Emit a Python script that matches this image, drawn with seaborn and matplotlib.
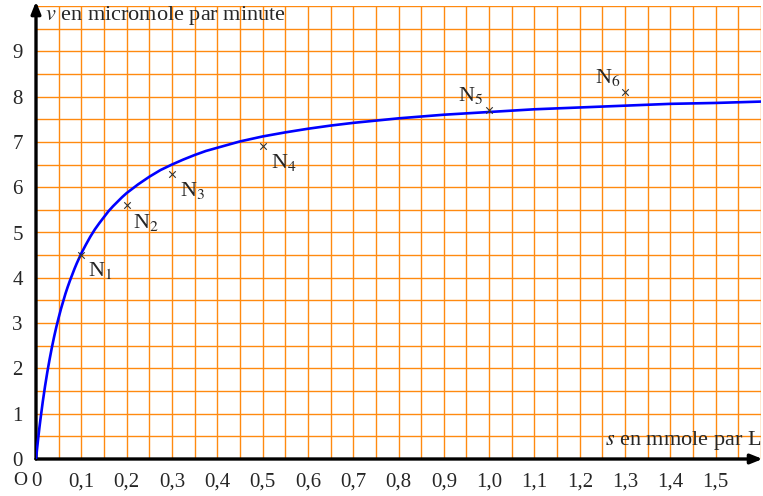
import matplotlib
matplotlib.use("Agg")
import matplotlib.pyplot as plt
import numpy as np
import pandas as pd
import seaborn as sns

# substrate concentration s (mmol/L) and reaction speed v (µmol/min) along the fitted curve
curve_s = [0, 0.0025, 0.005, 0.0075, 0.01, 0.015, 0.02, 0.025, 0.03, 0.035, 0.04, 0.045,
           0.05, 0.055, 0.06, 0.065, 0.07, 0.075, 0.08, 0.085, 0.09, 0.095, 0.1, 0.11,
           0.12, 0.13, 0.14, 0.15, 0.16, 0.17, 0.18, 0.19, 0.2, 0.225, 0.25, 0.275, 0.3,
           0.325, 0.35, 0.375, 0.4, 0.45, 0.5, 0.55, 0.6, 0.65, 0.7, 0.75, 0.8, 0.9,
           1.0, 1.1, 1.2, 1.3, 1.4, 1.5, 1.6]
curve_v = [0, 0.24, 0.47, 0.69, 0.89, 1.27, 1.61, 1.92, 2.20, 2.46, 2.70, 2.92,
           3.12, 3.31, 3.48, 3.65, 3.80, 3.94, 4.07, 4.20, 4.32, 4.43, 4.54, 4.73,
           4.91, 5.07, 5.21, 5.34, 5.47, 5.58, 5.68, 5.78, 5.87, 6.06, 6.23, 6.38, 6.50,
           6.61, 6.71, 6.80, 6.87, 7.01, 7.12, 7.21, 7.29, 7.36, 7.42, 7.47, 7.52, 7.60,
           7.66, 7.72, 7.76, 7.80, 7.84, 7.86, 7.89]

# measured points
point_s = [0.1, 0.2, 0.3, 0.5, 1.0, 1.3]
point_v = [4.5, 5.6, 6.3, 6.9, 7.7, 8.1]
point_names = ["N$_1$", "N$_2$", "N$_3$", "N$_4$", "N$_5$", "N$_6$"]

x_ticks = [0, 0.1, 0.2, 0.3, 0.4, 0.5, 0.6, 0.7, 0.8, 0.9, 1.0, 1.1, 1.2, 1.3, 1.4, 1.5]
x_labels = ["0", "0,1", "0,2", "0,3", "0,4", "0,5", "0,6", "0,7", "0,8", "0,9", "1,0",
            "1,1", "1,2", "1,3", "1,4", "1,5"]
y_ticks = [0, 1, 2, 3, 4, 5, 6, 7, 8, 9]
y_labels = ["0", "1", "2", "3", "4", "5", "6", "7", "8", "9"]

sns.set_style("white")
plt.rcParams["font.family"] = ["Liberation Serif", "DejaVu Serif"]
plt.rcParams["mathtext.fontset"] = "stix"

fig = plt.figure(figsize=(7.63, 4.96), dpi=100)
W, H = 763, 496
ax = fig.add_axes([36 / W, (H - 459) / H, 725 / W, 453 / H])
ax.set_xlim(0, 1.6)
ax.set_ylim(0, 10)

# millimetre-style grid
grid_color = "#ff8a10"
ax.set_xticks(np.round(np.arange(0.05, 1.6001, 0.05), 2), minor=True)
ax.set_yticks(np.round(np.arange(0.5, 10.001, 0.5), 2), minor=True)
ax.xaxis.remove_overlapping_locs = False
ax.yaxis.remove_overlapping_locs = False
ax.grid(which="minor", color=grid_color, linewidth=1.0)
ax.grid(which="major", visible=False)
ax.tick_params(which="minor", length=0)

ax.set_xticks(x_ticks, x_labels)
ax.set_yticks(y_ticks, y_labels)
ax.tick_params(which="major", direction="inout", length=11, width=0.9, color="black",
               labelsize=15, pad=4)
ax.set_axisbelow(True)

for sp in ax.spines.values():
    sp.set_visible(False)

# axes with arrow heads
arrow = dict(arrowstyle="-|>,head_length=0.7,head_width=0.28", color="black",
             linewidth=2.4, mutation_scale=10, shrinkA=0, shrinkB=0)
ax.annotate("", xy=(1.6035, 0), xytext=(0, 0), xycoords="data", arrowprops=arrow,
            annotation_clip=False)
ax.annotate("", xy=(0, 10.1), xytext=(0, 0), xycoords="data", arrowprops=arrow,
            annotation_clip=False)

# curve and measurements
curve = pd.DataFrame({"s": curve_s, "v": curve_v})
sns.lineplot(data=curve, x="s", y="v", color="#0000ff", linewidth=1.9, ax=ax,
             sort=False, zorder=4)
pts = pd.DataFrame({"s": point_s, "v": point_v})
sns.scatterplot(data=pts, x="s", y="v", marker="x", color="#333333", s=22,
                linewidth=0.8, ax=ax, zorder=5)

offsets = [(7, -21), (6, -23), (8, -22), (8, -22), (-31, 9), (-30, 9)]
for xs, yv, name, off in zip(point_s, point_v, point_names, offsets):
    ax.annotate(name, xy=(xs, yv), xytext=off, textcoords="offset pixels",
                ha="left", va="baseline", fontsize=16, zorder=6)

ax.set_xlabel("")
ax.set_ylabel("")
ax.text(0.02, 9.69, "$v$ en micromole par minute", fontsize=16, ha="left",
        va="baseline", zorder=6)
ax.text(1.6, 0.31, "$s$ en mmole par L", fontsize=16, ha="right", va="baseline",
        zorder=6, clip_on=False)
ax.text(-0.034, -0.47, "O", fontsize=14, ha="center", va="center", clip_on=False)

fig.savefig("out.png", dpi=100)
